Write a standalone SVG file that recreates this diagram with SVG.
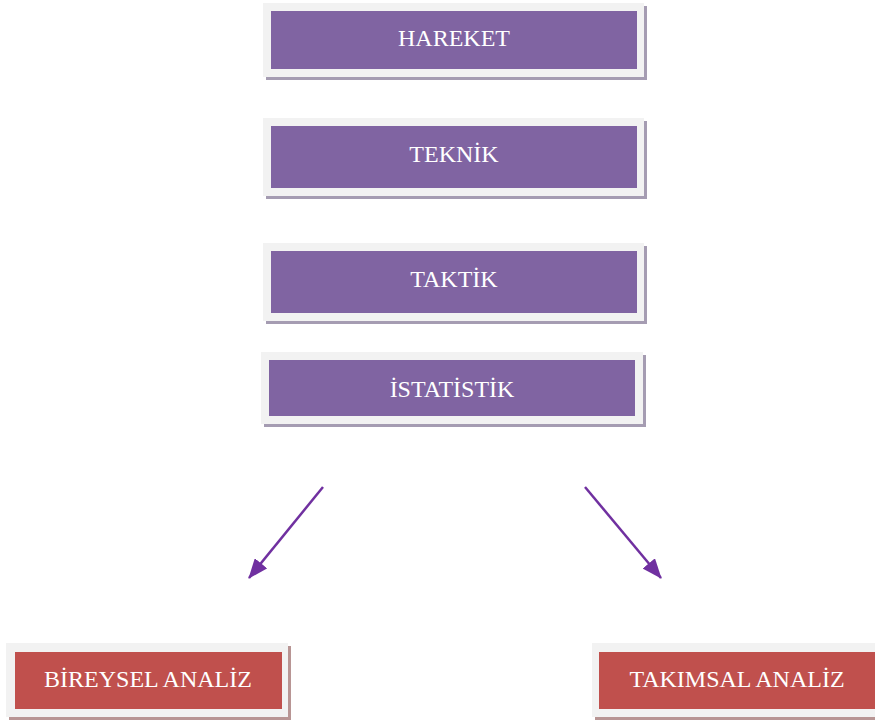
<svg xmlns="http://www.w3.org/2000/svg" width="875" height="725" viewBox="0 0 875 725">
<style>
.frame{fill:#f2f2f2}
.shp{fill:#a59cb2}
.shr{fill:#b89594}
.pur{fill:#8064a2}
.red{fill:#c0504d}
.lbl{font-family:"Liberation Serif","DejaVu Serif",serif;font-size:24px;fill:#ffffff;text-anchor:middle}
.arr{stroke:#7030a0;stroke-width:2.5;fill:none}
</style>
<defs>
<marker id="ah" viewBox="0 0 10 10" refX="9" refY="5" markerWidth="7" markerHeight="7" markerUnits="userSpaceOnUse" orient="auto">
<path d="M0,0 L10,5 L0,10 Z" fill="#7030a0"/>
</marker>
<marker id="ah2" viewBox="0 0 20 16" refX="19" refY="8" markerWidth="20" markerHeight="16" markerUnits="userSpaceOnUse" orient="auto">
<path d="M0,0 L20,8 L0,16 Z" fill="#7030a0"/>
</marker>
</defs>
<rect width="875" height="725" fill="#ffffff"/>
<g id="hareket">
<rect class="shp" x="266" y="6" width="381" height="74"/>
<rect class="frame" x="263" y="3" width="381" height="74"/>
<rect class="pur" x="271" y="11" width="366" height="58"/>
<text class="lbl" x="454" y="46">HAREKET</text>
</g>
<g id="teknik">
<rect class="shp" x="266" y="121" width="381" height="78"/>
<rect class="frame" x="263" y="118" width="381" height="78"/>
<rect class="pur" x="271" y="126" width="366" height="62"/>
<text class="lbl" x="454" y="162">TEKNİK</text>
</g>
<g id="taktik">
<rect class="shp" x="266" y="246" width="381" height="78"/>
<rect class="frame" x="263" y="243" width="381" height="78"/>
<rect class="pur" x="271" y="251" width="366" height="62"/>
<text class="lbl" x="454" y="287">TAKTİK</text>
</g>
<g id="istatistik">
<rect class="shp" x="264" y="355" width="382" height="72"/>
<rect class="frame" x="261" y="352" width="382" height="72"/>
<rect class="pur" x="269" y="360" width="366" height="56"/>
<text class="lbl" x="452" y="397">İSTATİSTİK</text>
</g>
<g id="bireysel">
<rect class="shr" x="9" y="646" width="282" height="74"/>
<rect class="frame" x="6" y="643" width="282" height="74"/>
<rect class="red" x="15" y="652" width="267" height="57"/>
<text class="lbl" x="148" y="687">BİREYSEL ANALİZ</text>
</g>
<g id="takimsal">
<rect class="shr" x="595" y="646" width="283" height="74"/>
<rect class="frame" x="592" y="643" width="283" height="74"/>
<rect class="red" x="599" y="652" width="276" height="57"/>
<text class="lbl" x="737" y="687">TAKIMSAL ANALİZ</text>
</g>
<g id="connectors">
<line class="arr" x1="323" y1="487" x2="249" y2="578" marker-end="url(#ah2)"/>
<line class="arr" x1="585" y1="487" x2="661" y2="578" marker-end="url(#ah2)"/>
</g>
</svg>
